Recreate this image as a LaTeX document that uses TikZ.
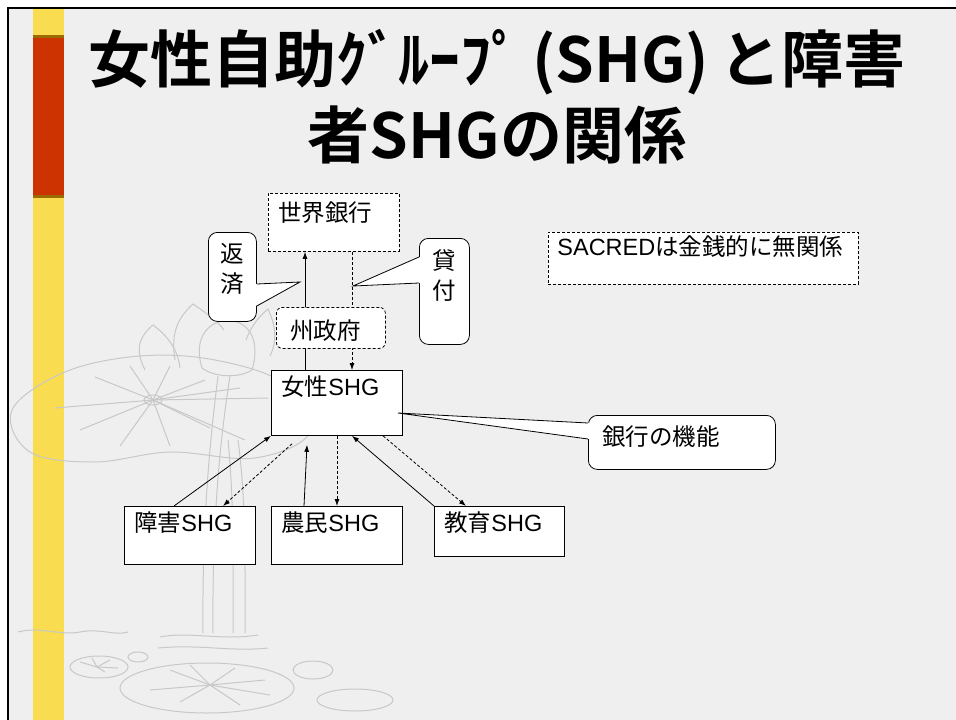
\documentclass[tikz,border=0pt]{standalone}
\usepackage{fontspec}
\setmainfont{Liberation Sans}
\newfontfamily\jp[BoldFont={Noto Sans CJK JP Bold}]{Noto Sans CJK JP}
\usepackage{tikz}
\usetikzlibrary{arrows.meta}
\definecolor{SlideBack}{HTML}{EFEFEF}
\definecolor{BarYellow}{HTML}{F9DC50}
\definecolor{BarRed}{HTML}{CC3300}
\definecolor{BarBrown}{HTML}{9C6B00}
\definecolor{LotusLine}{HTML}{C8C8C8}

\tikzset{
  shgbox/.style={draw, fill=white, anchor=north west, inner xsep=10pt,
    inner ysep=0pt, text width=111pt, text height=25pt, text depth=33pt,
    align=left},
  dashbox/.style={shgbox, dash pattern=on 3pt off 2pt},
  bubble/.style={draw, fill=white, rounded corners=9pt, anchor=north west,
    inner sep=0pt, align=center},
  slidetitle/.style={anchor=base, inner sep=0pt,
    font=\jp\bfseries\fontsize{62}{77}\selectfont},
  lotus/.style={draw=LotusLine, line width=1pt},
  link/.style={-{Latex[length=7pt,width=5pt]}},
  dashlink/.style={link, dash pattern=on 3pt off 2pt}
}

\begin{document}
\begin{tikzpicture}[x=1pt, y=-1pt, line width=0.8pt,
    font=\fontsize{23.5}{30}\selectfont]
    \useasboundingbox (0,0) rectangle (956,720);

    % slide frame and side bar
    \fill[white] (0,0) rectangle (956,720);
    \fill[SlideBack] (8,8) rectangle (956,720);
    \draw[line width=2pt] (8,720) -- (8,8) -- (956,8);
    \fill[BarYellow] (33,9) rectangle (64,720);
    \fill[BarBrown] (33,35) rectangle (64,198);
    \fill[BarRed] (33,37.5) rectangle (64,195);

    % lotus in the background
    \begin{scope}[lotus]
      \draw plot[smooth cycle, tension=0.6] coordinates {(12,410) (65,372)
        (140,356) (215,360) (285,384) (310,432) (255,458) (170,452) (95,462)
        (30,452)};
      \foreach \x/\y in {95/377, 130/366, 170/366, 205/380, 240/388, 268/398,
        245/440, 210/428, 170/446, 120/446, 80/430, 55/408}
        \draw (153,400) -- (\x,\y);
      \draw (153,400) ellipse (9 and 5);
      \draw (145,370) .. controls (134,348) and (140,336) .. (153,325)
        .. controls (168,336) and (178,350) .. (180,368);
      \draw (175,360) .. controls (170,330) and (180,316) .. (193,304)
        .. controls (208,314) and (218,322) .. (224,330);
      \draw (202,368) .. controls (194,342) and (204,322) .. (228,320)
        .. controls (252,322) and (260,344) .. (252,370);
      \draw (246,340) .. controls (252,324) and (260,316) .. (268,309)
        .. controls (275,324) and (278,340) .. (270,356);
      \draw (202,368) .. controls (215,378) and (240,378) .. (252,370);
      \draw (218,376) .. controls (210,440) and (202,520) .. (203,633);
      \draw (230,376) .. controls (220,440) and (212,520) .. (213,633);
      \draw (228,440) .. controls (234,500) and (233,560) .. (233,633);
      \draw (238,440) .. controls (246,500) and (245,560) .. (245,633);
      \draw (18,632) .. controls (40,626) and (60,636) .. (80,632)
        .. controls (100,628) and (115,636) .. (128,632);
      \draw (160,637) .. controls (190,631) and (220,641) .. (258,635);
      \draw (158,648) .. controls (200,644) and (230,652) .. (268,648);
      \draw (99,667) ellipse (29 and 11);
      \draw (138,657) ellipse (10 and 5);
      \draw (207,688) ellipse (87 and 25);
      \draw (313,670) ellipse (20 and 9);
      \draw (355,700) ellipse (38 and 11);
      \foreach \x/\y in {170/670, 190/665, 235/668, 265/680, 270/695,
        240/705, 180/702, 150/690}
        \draw (210,685) -- (\x,\y);
      \foreach \x/\y in {80/662, 92/658, 110/660, 118/668, 105/672}
        \draw (97,667) -- (\x,\y);
    \end{scope}

    % title
    \node[slidetitle] (title1) at (497,82) {女性自助ｸﾞﾙｰﾌﾟ\,(SHG)\,と障害};
    \node[slidetitle] (title2) at (497,158) {者SHGの関係};

    % boxes
    \node[dashbox, text height=28pt, text depth=30pt] (worldbank)
      at (268,193) {{\jp 世界銀行}};
    \node[shgbox, text depth=40pt] (women) at (271,370) {{\jp 女性}SHG};
    \node[shgbox] (disabled) at (124,506) {{\jp 障害}SHG};
    \node[shgbox] (farmer) at (271,506) {{\jp 農民}SHG};
    \node[shgbox, text width=110pt, text depth=25pt] (education)
      at (434,506) {{\jp 教育}SHG};
    \node[dashbox, text width=292pt, inner xsep=9pt, text height=23pt,
      text depth=29pt] (sacred) at (548,232) {SACRED{\jp は金銭的に無関係}};

    % money flow between the women's SHG and the bank
    \draw[link] ([xshift=34pt]women.north west)
      -- ([xshift=37pt]worldbank.south west);
    \draw[dashlink] ([xshift=84pt]worldbank.south west)
      -- ([xshift=81pt]women.north west);
    \node[dashbox, rounded corners=6pt, text width=81pt, inner xsep=14pt,
      text height=32pt, text depth=9pt] (state) at (276,307) {{\jp 州政府}};

    % member groups
    \draw[link] ([xshift=50pt]disabled.north west) -- (women.south west);
    \draw[dashlink] ([xshift=21pt,yshift=-8pt]women.south west)
      -- ([xshift=99pt]disabled.north west);
    \draw[link] ([xshift=33pt]farmer.north west)
      -- ([xshift=36pt,yshift=-9pt]women.south west);
    \draw[dashlink] ([xshift=66pt]women.south west)
      -- ([xshift=66pt]farmer.north west);
    \draw[link] (education.north west) -- ([xshift=81pt]women.south west);
    \draw[dashlink] ([xshift=112pt]women.south west)
      -- ([xshift=32pt]education.north west);

    % speech bubbles
    \coordinate (repaytip) at (300,282);
    \coordinate (loantip) at (353,286);
    \coordinate (functip) at (398,413);
    \node[bubble, text width=48pt, text height=30.5pt, text depth=58.5pt]
      (repay) at (208,232) {{\jp 返}\\{\jp 済}};
    \fill[white] ([xshift=-1pt,yshift=-52pt]repay.north east) -- (repaytip)
      -- ([xshift=-1pt,yshift=-74pt]repay.north east) -- cycle;
    \draw ([yshift=-52pt]repay.north east) -- (repaytip)
      -- ([yshift=-74pt]repay.north east);
    \node[bubble, text width=50pt, text height=31.5pt, text depth=74.5pt]
      (loan) at (419,238) {{\jp 貸}\\{\jp 付}};
    \fill[white] ([xshift=1pt,yshift=-19pt]loan.north west) -- (loantip)
      -- ([xshift=1pt,yshift=-45pt]loan.north west) -- cycle;
    \draw ([yshift=-19pt]loan.north west) -- (loantip)
      -- ([yshift=-45pt]loan.north west);
    \node[bubble, text width=159pt, inner xsep=14pt, text height=30.5pt,
      text depth=23.5pt, align=left] (bankfunc) at (588,415) {{\jp 銀行の機能}};
    \fill[white] ([xshift=1pt,yshift=-8pt]bankfunc.north west) -- (functip)
      -- ([xshift=1pt,yshift=-24pt]bankfunc.north west) -- cycle;
    \draw ([yshift=-8pt]bankfunc.north west) -- (functip)
      -- ([yshift=-24pt]bankfunc.north west);
\end{tikzpicture}
\end{document}
